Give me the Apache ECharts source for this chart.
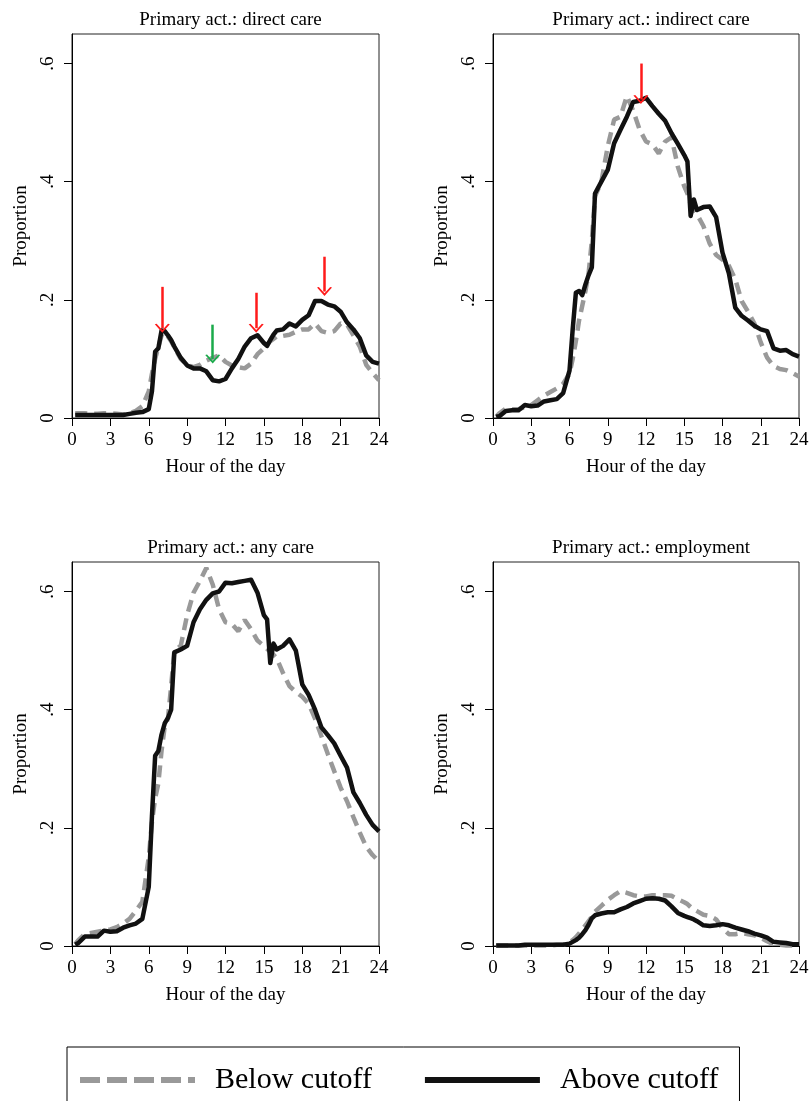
<!DOCTYPE html>
<html>
<head>
<meta charset="utf-8">
<script src="https://cdn.jsdelivr.net/npm/echarts@6/dist/echarts.min.js"></script>
<style>
html,body{margin:0;padding:0;background:#fff;}
#chart{width:812px;height:1101px;}
</style>
</head>
<body>
<div id="chart"></div>
<script>
// ---------------- data ----------------
const hours = [0.25,0.5,1,1.5,2,2.5,3,3.5,4,4.5,5,5.5,6,6.25,6.5,6.75,7,7.25,7.5,7.75,8,8.5,9,9.5,10,10.5,11,11.5,12,12.5,13,13.5,14,14.5,15,15.25,15.5,15.75,16,16.5,17,17.5,18,18.5,19,19.5,20,20.5,21,21.5,22,22.5,23,23.5,24];

const directBelow = [.008,.008,.008,.007,.007,.008,.008,.007,.006,.008,.012,.020,.045,
  .075,.100,.120,.140,.145,.138,.130,.120,
  .100,.090,.086,.090,.097,.102,.106,.095,.089,.086,.084,.092,.108,.118,
  .124,.130,.134,.138,
  .139,.141,.146,.150,.150,.160,.147,.144,.147,.160,.158,.140,.121,.090,.076,.064];
const directAbove = [.005,.005,.005,.005,.005,.005,.005,.005,.005,.007,.009,.010,.015,
  .045,.112,.118,.148,.147,.140,.132,.121,
  .102,.089,.084,.084,.079,.064,.062,.066,.084,.100,.121,.135,.140,.127,
  .122,.132,.141,.148,
  .150,.160,.155,.166,.174,.198,.198,.192,.189,.180,.162,.150,.135,.106,.095,.092];

const indirectBelow = [.002,.008,.016,.015,.015,.018,.022,.030,.038,.044,.050,.058,.075,
  .100,.130,.165,.190,.215,.245,.300,.375,
  .400,.460,.505,.510,.545,.520,.488,.468,.463,.448,.468,.475,.425,.392,
  .380,.362,.352,.345,
  .325,.295,.276,.268,.258,.235,.198,.180,.160,.128,.102,.088,.083,.081,.076,.070];
const indirectAbove = [.002,.003,.012,.013,.013,.022,.020,.021,.028,.030,.032,.042,.080,
  .150,.212,.215,.208,.226,.242,.255,.380,
  .400,.420,.465,.488,.510,.535,.537,.542,.528,.515,.503,.482,.464,.445,
  .434,.342,.370,.352,
  .357,.358,.340,.280,.245,.187,.173,.165,.156,.150,.147,.118,.114,.115,.108,.104];

const anyBelow = [.003,.010,.020,.022,.024,.026,.028,.032,.038,.046,.060,.075,.150,
  .210,.250,.275,.330,.372,.385,.440,.500,
  .508,.560,.598,.618,.640,.612,.570,.548,.545,.533,.552,.536,.517,.508,
  .503,.498,.493,.487,
  .462,.440,.430,.422,.410,.385,.355,.325,.296,.268,.245,.218,.192,.168,.154,.143];
const anyAbove = [.002,.005,.016,.016,.016,.026,.024,.025,.031,.035,.038,.046,.100,
  .220,.322,.330,.358,.377,.386,.400,.497,
  .502,.508,.548,.570,.586,.597,.600,.615,.614,.616,.618,.620,.598,.560,
  .553,.479,.512,.502,
  .508,.519,.500,.443,.425,.400,.370,.357,.343,.322,.302,.260,.242,.222,.205,.194];

const empBelow = [.001,.001,.001,.001,.001,.001,.001,.001,.001,.001,.002,.002,.006,
  .010,.015,.021,.028,.035,.042,.050,.058,
  .068,.078,.086,.093,.090,.086,.084,.084,.086,.086,.086,.085,.079,.074,
  .071,.066,.062,.059,
  .053,.051,.045,.030,.020,.020,.022,.020,.018,.014,.008,.003,.002,.001,.001,.001];
const empAbove = [.001,.001,.001,.001,.001,.002,.002,.002,.002,.002,.002,.002,.004,
  .007,.010,.014,.020,.027,.036,.047,.052,
  .055,.057,.057,.062,.066,.072,.076,.080,.081,.080,.077,.067,.056,.051,
  .049,.047,.045,.042,
  .035,.034,.035,.037,.035,.031,.028,.025,.021,.018,.014,.007,.006,.005,.003,.003];

const panelTitles = ['Primary act.: direct care','Primary act.: indirect care','Primary act.: any care','Primary act.: employment'];
const seriesNames = ['Below cutoff','Above cutoff'];
const xTicks = [0,3,6,9,12,15,18,21,24];
const yTicks = [0,0.2,0.4,0.6];
const yTickLabels = ['0','.2','.4','.6'];
const xTitle = 'Hour of the day';
const yTitle = 'Proportion';

// annotation arrows: hour, start value, tip value, kind
const directArrows = [
  {hour:7.06, from:0.222, to:0.152, kind:'peak'},
  {hour:11.0, from:0.158, to:0.100, kind:'trough'},
  {hour:14.4, from:0.212, to:0.152, kind:'peak'},
  {hour:19.74, from:0.273, to:0.214, kind:'peak'}
];
const indirectArrows = [
  {hour:11.6, from:0.600, to:0.539, kind:'peak'}
];

// ---------------- chart ----------------
const panels = [
  {below:directBelow, above:directAbove, arrows:directArrows},
  {below:indirectBelow, above:indirectAbove, arrows:indirectArrows},
  {below:anyBelow, above:anyAbove, arrows:[]},
  {below:empBelow, above:empAbove, arrows:[]}
];

const FONT = '"Liberation Serif", "Times New Roman", serif';
const gridRects = [
  {left:72, top:34, width:307, height:384},
  {left:493, top:34, width:306, height:384},
  {left:72, top:562, width:307, height:384},
  {left:493, top:562, width:306, height:384}
];
const arrowColor = {peak:'#ff1a1a', trough:'#1aaa4a'};
const chevron = 'path://M10,0 L20,11 L17.6,11.6 L10,3.6 L2.4,11.6 L0,11 Z';
const dashedIcon = 'path://M0,0h20v6h-20z M27,0h20v6h-20z M54,0h20v6h-20z M81,0h20v6h-20z M108,0h7v6h-7z';
const solidIcon = 'path://M0,0h115v6h-115z';

const toPairs = arr => hours.map((h, k) => [h, arr[k]]);

const option = {
  animation: false,
  backgroundColor: '#fff',
  title: panelTitles.map((t, i) => ({
    text: t,
    left: gridRects[i].left + gridRects[i].width / 2,
    textAlign: 'center',
    top: i < 2 ? 6 : 534,
    textStyle: {fontFamily: FONT, fontSize: 19, fontWeight: 'normal', color: '#000'}
  })),
  legend: {
    left: 67, top: 1047,
    orient: 'horizontal',
    selectedMode: false,
    symbolKeepAspect: false,
    data: [
      {name: seriesNames[0], icon: dashedIcon, itemStyle: {color: '#999'}},
      {name: seriesNames[1], icon: solidIcon, itemStyle: {color: '#111'}}
    ],
    itemWidth: 115, itemHeight: 6, itemGap: 53,
    borderColor: '#000', borderWidth: 1,
    padding: [18, 21, 26, 13],
    textStyle: {fontFamily: FONT, fontSize: 30, color: '#000', padding: [0, 0, 0, 15]}
  },
  grid: gridRects.map(r => Object.assign({show: true, borderColor: '#222', borderWidth: 1, containLabel: false, outerBoundsMode: 'none'}, r)),
  xAxis: gridRects.map((r, i) => ({
    gridIndex: i, type: 'value', min: 0, max: 24, interval: 3,
    name: xTitle, nameLocation: 'middle', nameGap: 40,
    nameTextStyle: {fontFamily: FONT, fontSize: 19, color: '#000'},
    axisLine: {show: true, lineStyle: {color: '#000', width: 1}},
    axisTick: {show: true, length: 8, lineStyle: {color: '#000', width: 1}},
    axisLabel: {fontFamily: FONT, fontSize: 19, color: '#000', margin: 13, showMinLabel: true, showMaxLabel: true},
    splitLine: {show: false}
  })),
  yAxis: gridRects.map((r, i) => ({
    gridIndex: i, type: 'value', min: 0, max: 0.65,
    name: yTitle, nameLocation: 'middle', nameGap: 41,
    nameTextStyle: {fontFamily: FONT, fontSize: 19, color: '#000'},
    axisLine: {show: true, lineStyle: {color: '#000', width: 1}},
    axisTick: {show: true, length: 8, customValues: yTicks, lineStyle: {color: '#000', width: 1}},
    axisLabel: {
      fontFamily: FONT, fontSize: 19, color: '#000', rotate: 90, margin: 14,
      customValues: yTicks,
      formatter: v => {
        const k = yTicks.findIndex(t => Math.abs(t - v) < 1e-9);
        return k >= 0 ? yTickLabels[k] : '';
      }
    },
    splitLine: {show: false}
  })),
  series: []
};

panels.forEach((p, i) => {
  option.series.push({
    name: seriesNames[0], type: 'line', xAxisIndex: i, yAxisIndex: i,
    data: toPairs(p.below), symbol: 'none', showSymbol: false, clip: false,
    lineStyle: {color: '#999', width: 4.5, type: [12, 7]},
    itemStyle: {color: '#999'},
    silent: true, z: 2
  });
  const s = {
    name: seriesNames[1], type: 'line', xAxisIndex: i, yAxisIndex: i,
    data: toPairs(p.above), symbol: 'none', showSymbol: false, clip: false,
    lineStyle: {color: '#111', width: 4.5, join: 'round'},
    itemStyle: {color: '#111'},
    silent: true, z: 3
  };
  if (p.arrows.length) {
    s.markLine = {
      silent: true, animation: false,
      symbol: ['none', chevron], symbolSize: [15, 9],
      label: {show: false},
      emphasis: {disabled: true},
      data: p.arrows.map(a => [
        {coord: [a.hour, a.from], lineStyle: {color: arrowColor[a.kind], width: 2.5, type: 'solid'}},
        {coord: [a.hour, a.to]}
      ])
    };
  }
  option.series.push(s);
});

const chart = echarts.init(document.getElementById('chart'), null, {renderer: 'canvas'});
chart.setOption(option);
</script>
</body>
</html>
